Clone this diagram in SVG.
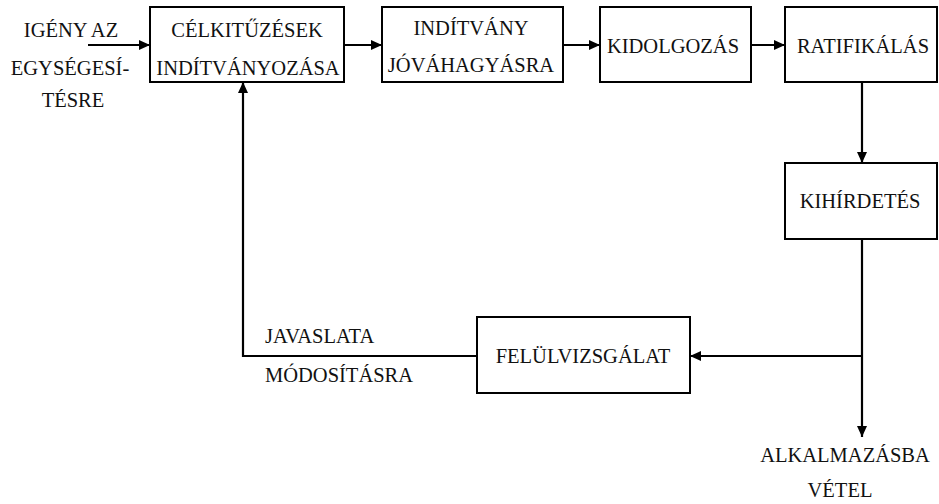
<svg xmlns="http://www.w3.org/2000/svg" width="939" height="504" viewBox="0 0 939 504">
<style>
.box{fill:#fff;stroke:#000;stroke-width:2}
text{font-family:'Liberation Serif','DejaVu Serif',serif;font-size:20.5px;fill:#111}
.m{text-anchor:middle}
.c{fill:none;stroke:#000;stroke-width:2.2}
</style>
<defs>
<marker id="ah" markerUnits="userSpaceOnUse" markerWidth="12" markerHeight="10" refX="11" refY="5" orient="auto">
<path d="M0,0 L11,5 L0,10 z" fill="#000"/>
</marker>
</defs>
<rect width="939" height="504" fill="#fff"/>
<g id="connectors">
<line class="c" x1="88" y1="45" x2="150" y2="45" marker-end="url(#ah)"/>
<line class="c" x1="344" y1="45" x2="382" y2="45" marker-end="url(#ah)"/>
<line class="c" x1="563" y1="45" x2="600" y2="45" marker-end="url(#ah)"/>
<line class="c" x1="751" y1="45" x2="785" y2="45" marker-end="url(#ah)"/>
<line class="c" x1="862" y1="82" x2="862" y2="163" marker-end="url(#ah)"/>
<line class="c" x1="862" y1="239" x2="862" y2="437" marker-end="url(#ah)"/>
<line class="c" x1="862" y1="356" x2="690" y2="356" marker-end="url(#ah)"/>
<polyline class="c" points="477,356 243,356 243,82" marker-end="url(#ah)"/>
</g>
<g id="input">
<text class="m" x="71" y="37">IGÉNY AZ</text>
<text class="m" x="70" y="75">EGYSÉGESÍ-</text>
<text class="m" x="73" y="107">TÉSRE</text>
</g>
<g id="celkituzesek">
<rect class="box" x="150" y="7" width="194" height="75"/>
<text class="m" x="247" y="37">CÉLKITŰZÉSEK</text>
<text class="m" x="248" y="75">INDÍTVÁNYOZÁSA</text>
</g>
<g id="inditvany">
<rect class="box" x="382" y="7" width="181" height="75"/>
<text class="m" x="471" y="35">INDÍTVÁNY</text>
<text class="m" x="471" y="72">JÓVÁHAGYÁSRA</text>
</g>
<g id="kidolgozas">
<rect class="box" x="600" y="7" width="151" height="75"/>
<text class="m" x="673" y="53">KIDOLGOZÁS</text>
</g>
<g id="ratifikalas">
<rect class="box" x="785" y="7" width="152" height="75"/>
<text class="m" x="863" y="53">RATIFIKÁLÁS</text>
</g>
<g id="kihirdetes">
<rect class="box" x="785" y="163" width="152" height="76"/>
<text class="m" x="860" y="208">KIHÍRDETÉS</text>
</g>
<g id="felulvizsgalat">
<rect class="box" x="477" y="317" width="213" height="76"/>
<text class="m" x="583" y="363">FELÜLVIZSGÁLAT</text>
</g>
<g id="javaslata">
<text x="265" y="343">JAVASLATA</text>
<text x="265" y="382">MÓDOSÍTÁSRA</text>
</g>
<g id="alkalmazasba">
<text class="m" x="845" y="462">ALKALMAZÁSBA</text>
<text class="m" x="840" y="497">VÉTEL</text>
</g>
</svg>
